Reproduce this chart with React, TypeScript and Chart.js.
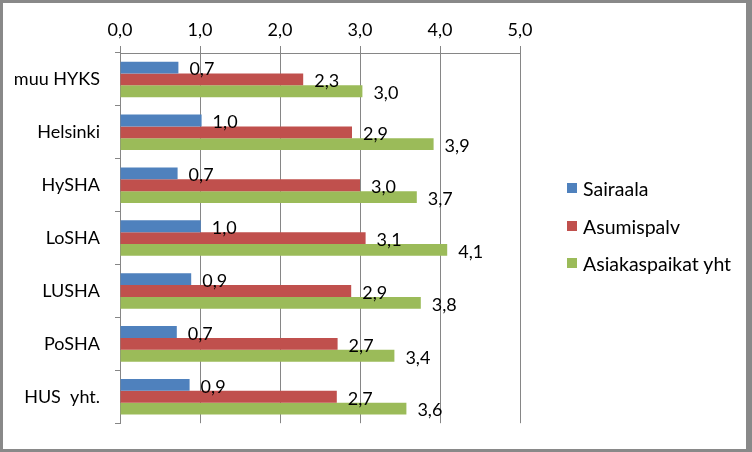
import React, { useEffect, useRef } from "react";
import { Chart, registerables } from "chart.js";

Chart.register(...registerables);

const categories = ["muu HYKS", "Helsinki", "HySHA", "LoSHA", "LUSHA", "PoSHA", "HUS  yht."];
const sairaala = [0.73, 1.02, 0.72, 1.01, 0.89, 0.71, 0.87];
const asumispalv = [2.29, 2.9, 3.0, 3.07, 2.89, 2.72, 2.71];
const asiakaspaikat = [3.03, 3.92, 3.71, 4.09, 3.76, 3.43, 3.58];
const seriesNames = ["Sairaala", "Asumispalv", "Asiakaspaikat yht"];
const seriesColors = ["#4F81BD", "#C0504D", "#9BBB59"];
const xMin = 0;
const xMax = 5;
const xStep = 1;

const FONT_FAMILY = "Lato, 'Noto Sans', sans-serif";
const FONT_SIZE = 18;
const LEGEND_FONT_SIZE = 19.5;

const fmt = (v: number) => v.toFixed(1).replace(".", ",");

const valueLabels = {
  id: "valueLabels",
  afterDatasetsDraw(chart: any) {
    const ctx = chart.ctx;
    ctx.save();
    ctx.font = `${FONT_SIZE}px ${FONT_FAMILY}`;
    ctx.fillStyle = "#000";
    ctx.textBaseline = "middle";
    ctx.textAlign = "left";
    chart.data.datasets.forEach((ds: any, i: number) => {
      const meta = chart.getDatasetMeta(i);
      meta.data.forEach((bar: any, j: number) => {
        ctx.fillText(fmt(ds.data[j]), bar.x + 11, bar.y + 2);
      });
    });
    ctx.restore();
  },
};

export default function App() {
  const ref = useRef<HTMLCanvasElement | null>(null);

  useEffect(() => {
    document.body.style.margin = "0";
    if (!ref.current) return;
    const data = [sairaala, asumispalv, asiakaspaikat];
    const chart = new Chart(ref.current, {
      type: "bar",
      data: {
        labels: categories,
        datasets: data.map((d, i) => ({
          label: seriesNames[i],
          data: d,
          backgroundColor: seriesColors[i],
          borderWidth: 0,
          categoryPercentage: 0.672,
          barPercentage: 1,
        })),
      },
      options: {
        indexAxis: "y",
        responsive: false,
        animation: false,
        layout: { padding: { left: 0, right: 226, top: 0, bottom: 21 } },
        plugins: {
          legend: { display: false },
          tooltip: { enabled: false },
        },
        scales: {
          x: {
            type: "linear",
            position: "top",
            min: xMin,
            max: xMax,
            ticks: {
              stepSize: xStep,
              callback: (v: any) => fmt(Number(v)),
              color: "#000",
              font: { family: FONT_FAMILY, size: FONT_SIZE },
              padding: 5,
            },
            grid: { color: "#868686", tickLength: 7, lineWidth: 1 },
            border: { display: true, color: "#868686" },
            afterFit: (s: any) => {
              s.height = 50;
            },
          },
          y: {
            type: "category",
            ticks: {
              color: "#000",
              font: { family: FONT_FAMILY, size: FONT_SIZE },
              padding: 15,
            },
            grid: {
              offset: true,
              drawOnChartArea: false,
              tickLength: 5,
              color: "#868686",
            },
            border: { display: true, color: "#868686" },
            afterFit: (s: any) => {
              s.width = 117;
            },
          },
        },
      },
      plugins: [valueLabels],
    });
    return () => chart.destroy();
  }, []);

  const legendTops = [188, 226, 263];

  return (
    <div
      style={{
        position: "relative",
        width: 752,
        height: 452,
        boxSizing: "border-box",
        borderStyle: "solid",
        borderColor: "#898989",
        borderWidth: "3px 6px 3px 3px",
        background: "#fff",
        overflow: "hidden",
      }}
    >
      <canvas ref={ref} width={743} height={446} style={{ display: "block", width: 743, height: 446 }} />
      {seriesNames.map((n, i) => (
        <div
          key={n}
          style={{
            position: "absolute",
            left: 567 - 3,
            top: legendTops[i] - 3 - 12,
            height: 24,
            display: "flex",
            alignItems: "center",
            fontFamily: FONT_FAMILY,
            fontSize: LEGEND_FONT_SIZE,
            color: "#000",
            whiteSpace: "nowrap",
          }}
        >
          <span style={{ display: "inline-block", width: 10, height: 10, background: seriesColors[i], marginRight: 6 }} />
          <span>{n}</span>
        </div>
      ))}
    </div>
  );
}
